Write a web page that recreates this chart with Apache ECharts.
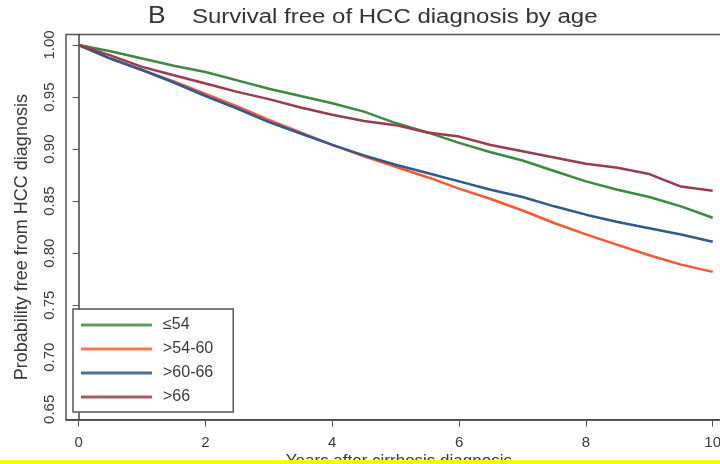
<!DOCTYPE html>
<html>
<head>
    <meta charset="utf-8">
    <title>Survival free of HCC diagnosis by age</title>
    <script src="https://cdn.jsdelivr.net/npm/echarts@6/dist/echarts.min.js"></script>
    <style>
        html, body { margin: 0; padding: 0; background: #fff; }
        #chart { width: 720px; height: 464px; }
    </style>
</head>
<body>
<div id="chart"></div>
<script type="text/javascript">
    // 数据
    var years = [0, 0.5, 1, 1.5, 2, 2.5, 3, 3.5, 4, 4.5, 5, 5.5, 6, 6.5, 7, 7.5, 8, 8.5, 9, 9.5, 10];
    var age54 = [1.000, 0.994, 0.987, 0.980, 0.974, 0.966, 0.958, 0.951, 0.944, 0.936, 0.925,
                 0.916, 0.906, 0.897, 0.889, 0.879, 0.869, 0.861, 0.854, 0.845, 0.834];
    var age54to60 = [1.000, 0.987, 0.976, 0.965, 0.953, 0.941, 0.928, 0.916, 0.904, 0.893, 0.883,
                     0.873, 0.862, 0.852, 0.841, 0.829, 0.818, 0.808, 0.798, 0.789, 0.782];
    var age60to66 = [1.000, 0.987, 0.976, 0.964, 0.951, 0.939, 0.926, 0.915, 0.904, 0.894, 0.885,
                     0.877, 0.869, 0.861, 0.854, 0.845, 0.837, 0.830, 0.824, 0.818, 0.811];
    var age66 = [1.000, 0.990, 0.979, 0.971, 0.963, 0.955, 0.948, 0.940, 0.933, 0.927, 0.923,
                 0.916, 0.912, 0.904, 0.898, 0.892, 0.886, 0.882, 0.876, 0.864, 0.860];
    var seriesNames = ['≤54', '>54-60', '>60-66', '>66'];
    var xTicks = [0, 2, 4, 6, 8, 10];
    var yTicks = [0.65, 0.70, 0.75, 0.80, 0.85, 0.90, 0.95, 1.00];

    function pairs(vals) {
        return years.map(function (t, i) { return [t, vals[i]]; });
    }

    var font = 'Liberation Sans, Arial, sans-serif';
    var textColor = '#3a3a3a';
    var colors = ['#3b8a3e', '#ff5530', '#2e5a8e', '#9a3b4b'];
    var legendColors = ['#5f9c62', '#ff7650', '#4d6f98', '#a85a68'];
    var allData = [age54, age54to60, age60to66, age66];

    var myChart = echarts.init(document.getElementById('chart'));

    var option = {
        animation: false,
        backgroundColor: '#fff',
        color: colors,
        textStyle: { fontFamily: font },
        legend: {
            data: seriesNames.map(function (n, i) {
                return { name: n, itemStyle: { color: legendColors[i] } };
            }),
            orient: 'vertical',
            left: 73,
            top: 309,
            icon: 'rect',
            itemWidth: 71,
            itemHeight: 3,
            itemGap: 6,
            padding: [7, 20, 6, 8],
            borderColor: '#555',
            borderWidth: 1.5,
            backgroundColor: '#fff',
            textStyle: { fontSize: 16, lineHeight: 18, color: textColor, fontFamily: font, padding: [0, 0, 0, 6] }
        },
        grid: {
            left: 66,
            top: 34.6,
            width: 665.7,
            height: 385.1,
            outerBoundsMode: 'none',
            show: true,
            borderColor: '#555',
            borderWidth: 1.5
        },
        xAxis: {
            type: 'value',
            min: -0.2,
            max: 10.3,
            name: 'Years after cirrhosis diagnosis',
            nameLocation: 'middle',
            nameGap: 33,
            nameMoveOverlap: false,
            nameTextStyle: { fontSize: 17, color: textColor, fontFamily: font },
            axisLine: { show: true, lineStyle: { color: '#444', width: 1.5 } },
            axisTick: { show: true, length: 7, customValues: xTicks, lineStyle: { color: '#555' } },
            axisLabel: { fontSize: 15, color: textColor, margin: 16, customValues: xTicks },
            splitLine: { show: false }
        },
        yAxis: {
            type: 'value',
            min: 0.64,
            max: 1.01,
            name: 'Probability free from HCC diagnosis',
            nameLocation: 'middle',
            nameGap: 35,
            nameMoveOverlap: false,
            nameTextStyle: { fontSize: 18, color: textColor, fontFamily: font, padding: [0, 20, 0, 0] },
            axisLine: { show: true, lineStyle: { color: '#444', width: 1.5 } },
            axisTick: { show: true, length: 6, customValues: yTicks, lineStyle: { color: '#555' } },
            axisLabel: {
                fontSize: 15,
                color: textColor,
                rotate: 90,
                margin: 9,
                customValues: yTicks,
                formatter: function (v) { return v.toFixed(2); }
            },
            splitLine: { show: false }
        },
        graphic: [{
            type: 'text',
            left: 148,
            top: 5,
            scaleX: 1.15,
            style: { text: 'B', fontSize: 23, fill: '#333', fontFamily: font }
        }, {
            type: 'text',
            left: 192,
            top: 7,
            scaleX: 1.2,
            style: { text: 'Survival free of HCC diagnosis by age', fontSize: 20, fill: '#333', fontFamily: font }
        }, {
            type: 'rect',
            left: 0,
            bottom: 0,
            shape: { width: 720, height: 4 },
            style: { fill: '#ffff00' },
            z: 100
        }],
        series: seriesNames.map(function (name, i) {
            return {
                name: name,
                type: 'line',
                data: pairs(allData[i]),
                showSymbol: false,
                symbol: 'none',
                smooth: false,
                lineStyle: { width: 2.5, color: colors[i] },
                itemStyle: { color: colors[i] }
            };
        })
    };

    myChart.setOption(option);
</script>
</body>
</html>
